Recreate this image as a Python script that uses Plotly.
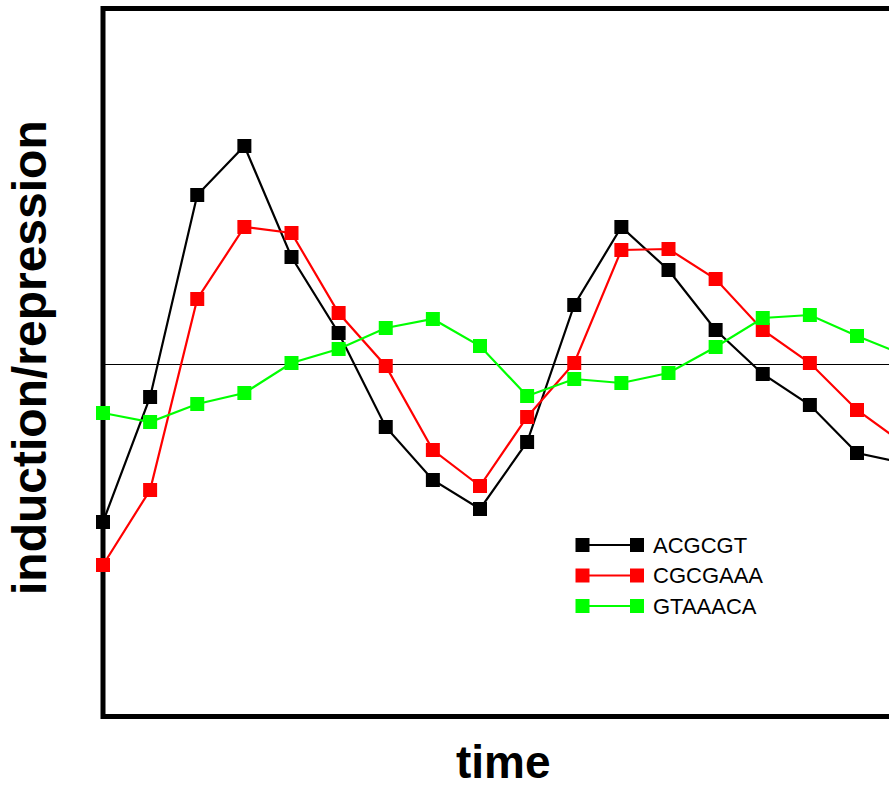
import plotly.graph_objects as go

# ---- data ----
time_idx = list(range(18))
series_names = ["ACGCGT", "CGCGAAA", "GTAAACA"]
acgcgt = [-1.58, -0.33, 1.69, 2.18, 1.07, 0.31, -0.63, -1.16, -1.45, -0.78,
          0.59, 1.37, 0.94, 0.34, -0.10, -0.41, -0.89, -0.99]
cgcgaaa = [-2.01, -1.26, 0.65, 1.37, 1.31, 0.51, -0.02, -0.86, -1.22, -0.53,
           0.01, 1.14, 1.15, 0.85, 0.34, 0.01, -0.46, -0.80]
gtaaaca = [-0.49, -0.58, -0.40, -0.29, 0.01, 0.15, 0.36, 0.45, 0.18, -0.32,
           -0.15, -0.19, -0.09, 0.17, 0.46, 0.49, 0.28, 0.09]
series_values = [acgcgt, cgcgaaa, gtaaaca]
colors = ["#000000", "#ff0000", "#00ff00"]
legend_rows = [2, 1, 0]

W, H = 889, 787
ML, MR, MT, MB = 103, 0, 11, 73

fig = go.Figure()

for name, vals, col in zip(series_names, series_values, colors):
    fig.add_trace(go.Scatter(
        x=time_idx, y=vals, mode="lines+markers", name=name,
        line=dict(color=col, width=2.2),
        marker=dict(symbol="square", size=14, color=col),
        cliponaxis=False, showlegend=False, hoverinfo="skip",
    ))

pw = W - ML - MR
ph = H - MT - MB

def px_to_paper_x(px):
    return (px - ML) / pw

def px_to_paper_y(py):
    return (H - MB - py) / ph

# custom legend (line with a marker at each end)
leg_y_px = {2: 545, 1: 575, 0: 606}
for name, col, row in zip(series_names, colors, legend_rows):
    fig.add_trace(go.Scatter(
        x=[0, 1], y=[row, row], mode="lines+markers",
        line=dict(color=col, width=2),
        marker=dict(symbol="square", size=14, color=col),
        xaxis="x2", yaxis="y2", cliponaxis=False,
        showlegend=False, hoverinfo="skip",
    ))
    fig.add_annotation(
        x=px_to_paper_x(651), y=px_to_paper_y(leg_y_px[row]),
        xref="paper", yref="paper", text=name, showarrow=False,
        xanchor="left", yanchor="middle",
        font=dict(family="Liberation Sans, Arial, sans-serif", size=22, color="#000"),
    )

fig.add_annotation(
    x=px_to_paper_x(29), y=px_to_paper_y(358), xref="paper", yref="paper",
    text="<b>induction/repression</b>", textangle=-90, showarrow=False,
    xanchor="center", yanchor="middle",
    font=dict(family="Liberation Sans, Arial, sans-serif", size=48, color="#000"),
)
fig.add_annotation(
    x=px_to_paper_x(503), y=px_to_paper_y(762), xref="paper", yref="paper",
    text="<b>time</b>", showarrow=False,
    xanchor="center", yanchor="middle",
    font=dict(family="Liberation Sans, Arial, sans-serif", size=46, color="#000"),
)

# left frame edge
fig.add_shape(
    type="line", xref="paper", yref="paper",
    x0=0, x1=0, y0=px_to_paper_y(719), y1=px_to_paper_y(6),
    line=dict(color="#000", width=5), layer="below",
)

fig.update_layout(
    width=W, height=H,
    margin=dict(l=ML, r=MR, t=MT, b=MB, pad=0),
    paper_bgcolor="white", plot_bgcolor="rgba(0,0,0,0)",
    showlegend=False, hovermode=False,
    xaxis=dict(range=[0, (W - 103) / 47.125], showgrid=False,
               zeroline=False, showticklabels=False, ticks="",
               showline=True, linecolor="#000", linewidth=5, mirror=True),
    yaxis=dict(range=[-3.50, 3.53], showgrid=False,
               zeroline=True, zerolinecolor="#000", zerolinewidth=1.3,
               showticklabels=False, ticks="", showline=False),
    xaxis2=dict(domain=[px_to_paper_x(571.6), px_to_paper_x(647.9)],
                range=[-0.2, 1.2], anchor="y2", visible=False),
    yaxis2=dict(domain=[px_to_paper_y(621.25), px_to_paper_y(529.75)],
                range=[-0.5, 2.5], anchor="x2", visible=False),
)

fig.write_html("out.html", config={"displayModeBar": False})
